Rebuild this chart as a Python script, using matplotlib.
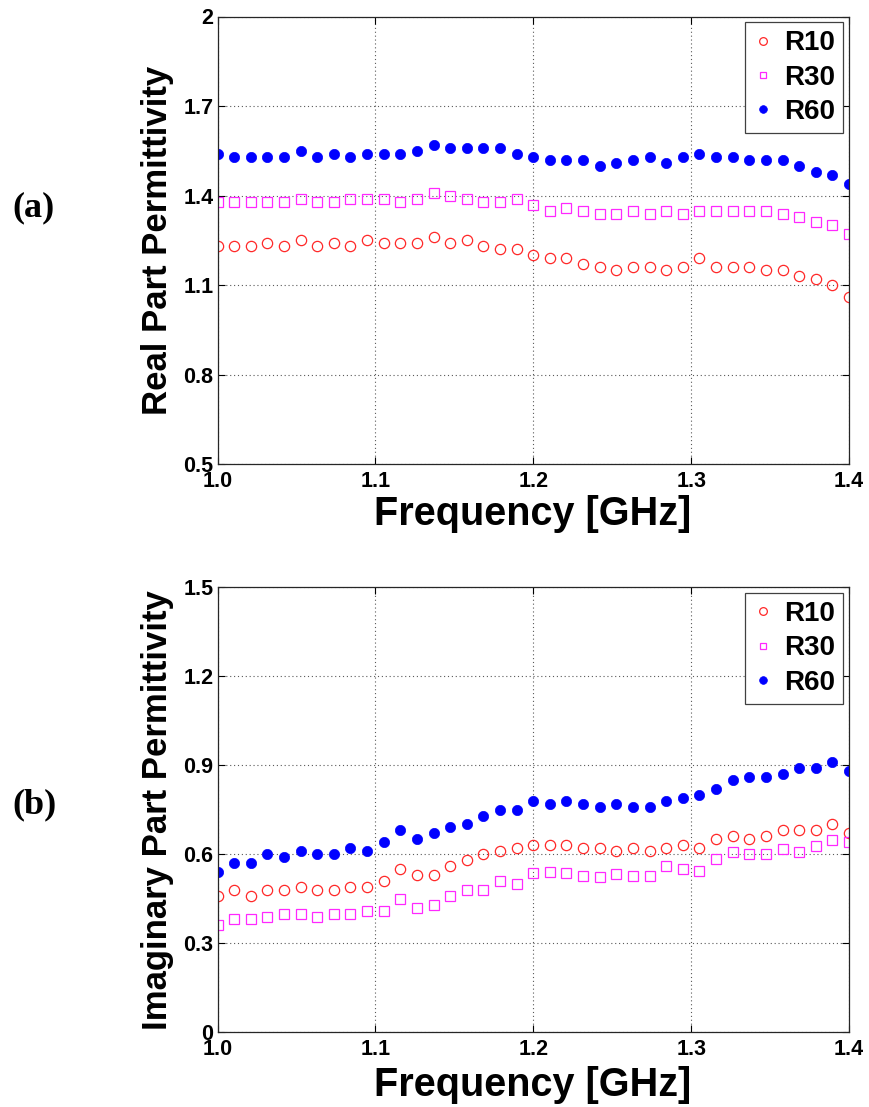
import numpy as np
import matplotlib
matplotlib.use("Agg")
import matplotlib.pyplot as plt
from matplotlib.lines import Line2D
from matplotlib.ticker import FixedLocator, FixedFormatter

# ---------------- data ----------------
freq = np.linspace(1.0, 1.4, 39)

real_r10 = [1.23, 1.23, 1.23, 1.24, 1.23, 1.25, 1.23, 1.24, 1.23, 1.25,
            1.24, 1.24, 1.24, 1.26, 1.24, 1.25, 1.23, 1.22, 1.22, 1.20,
            1.19, 1.19, 1.17, 1.16, 1.15, 1.16, 1.16, 1.15, 1.16, 1.19,
            1.16, 1.16, 1.16, 1.15, 1.15, 1.13, 1.12, 1.10, 1.06]
real_r30 = [1.38, 1.38, 1.38, 1.38, 1.38, 1.39, 1.38, 1.38, 1.39, 1.39,
            1.39, 1.38, 1.39, 1.41, 1.40, 1.39, 1.38, 1.38, 1.39, 1.37,
            1.35, 1.36, 1.35, 1.34, 1.34, 1.35, 1.34, 1.35, 1.34, 1.35,
            1.35, 1.35, 1.35, 1.35, 1.34, 1.33, 1.31, 1.30, 1.27]
real_r60 = [1.54, 1.53, 1.53, 1.53, 1.53, 1.55, 1.53, 1.54, 1.53, 1.54,
            1.54, 1.54, 1.55, 1.57, 1.56, 1.56, 1.56, 1.56, 1.54, 1.53,
            1.52, 1.52, 1.52, 1.50, 1.51, 1.52, 1.53, 1.51, 1.53, 1.54,
            1.53, 1.53, 1.52, 1.52, 1.52, 1.50, 1.48, 1.47, 1.44]

imag_r10 = [0.46, 0.48, 0.46, 0.48, 0.48, 0.49, 0.48, 0.48, 0.49, 0.49,
            0.51, 0.55, 0.53, 0.53, 0.56, 0.58, 0.60, 0.61, 0.62, 0.63,
            0.63, 0.63, 0.62, 0.62, 0.61, 0.62, 0.61, 0.62, 0.63, 0.62,
            0.65, 0.66, 0.65, 0.66, 0.68, 0.68, 0.68, 0.70, 0.67]
imag_r30 = [0.36, 0.38, 0.38, 0.39, 0.40, 0.40, 0.39, 0.40, 0.40, 0.41,
            0.41, 0.45, 0.42, 0.43, 0.46, 0.48, 0.48, 0.51, 0.50, 0.535,
            0.54, 0.535, 0.528, 0.524, 0.534, 0.528, 0.528, 0.56, 0.55, 0.543,
            0.584, 0.607, 0.601, 0.599, 0.618, 0.606, 0.628, 0.647, 0.641]
imag_r60 = [0.54, 0.57, 0.57, 0.60, 0.59, 0.61, 0.60, 0.60, 0.62, 0.61,
            0.64, 0.68, 0.65, 0.67, 0.69, 0.70, 0.73, 0.75, 0.75, 0.78,
            0.77, 0.78, 0.77, 0.76, 0.77, 0.76, 0.76, 0.78, 0.79, 0.80,
            0.82, 0.85, 0.86, 0.86, 0.87, 0.89, 0.89, 0.91, 0.88]

series_names = ["R10", "R30", "R60"]
x_ticks = [1.0, 1.1, 1.2, 1.3, 1.4]
x_ticklabels = ["1.0", "1.1", "1.2", "1.3", "1.4"]
real_yticks = [0.5, 0.8, 1.1, 1.4, 1.7, 2.0]
real_yticklabels = ["0.5", "0.8", "1.1", "1.4", "1.7", "2"]
imag_yticks = [0.0, 0.3, 0.6, 0.9, 1.2, 1.5]
imag_yticklabels = ["0", "0.3", "0.6", "0.9", "1.2", "1.5"]

# ---------------- style ----------------
plt.rcParams['font.family'] = ['Liberation Sans', 'DejaVu Sans']
W, H = 869, 1107
fig = plt.figure(figsize=(W / 100, H / 100), dpi=100)

def px_axes(left, top, right, bottom):
    return fig.add_axes([left / W, 1 - bottom / H, (right - left) / W, (bottom - top) / H])

ax1 = px_axes(217.5, 16.5, 849, 464.3)
ax2 = px_axes(217.5, 587, 849, 1032.3)

styles = [
    dict(marker='o', markerfacecolor='none', markeredgecolor='#ff2828', markersize=7.4, markeredgewidth=0.9),
    dict(marker='s', markerfacecolor='none', markeredgecolor='#ff28ff', markersize=6.6, markeredgewidth=0.9),
    dict(marker='o', markerfacecolor='#0000ff', markeredgecolor='#0000ff', markersize=7.4, markeredgewidth=0.5),
]

def setup(ax, ys, yticks, yticklabels, ylim):
    for y, st, name in zip(ys, styles, series_names):
        ax.plot(freq, y, linestyle='none', label=name, **st)
    ax.set_xlim(1.0, 1.4)
    ax.set_ylim(*ylim)
    ax.xaxis.set_major_locator(FixedLocator(x_ticks))
    ax.xaxis.set_major_formatter(FixedFormatter(x_ticklabels))
    ax.yaxis.set_major_locator(FixedLocator(yticks))
    ax.yaxis.set_major_formatter(FixedFormatter(yticklabels))
    ax.grid(True, linestyle=(0, (1, 2.5)), color='0.35', linewidth=0.8)
    ax.tick_params(direction='in', length=5, width=0.8, top=True, right=True,
                   labelsize=15.5, colors='black')
    ax.tick_params(axis='x', pad=5)
    ax.tick_params(axis='y', pad=3)
    for lab in ax.get_xticklabels() + ax.get_yticklabels():
        lab.set_fontweight('bold')
    for sp in ax.spines.values():
        sp.set_linewidth(0.9)
        sp.set_color('0.15')
    handles = [Line2D([], [], linestyle='none', marker=st['marker'],
                      markerfacecolor=st['markerfacecolor'],
                      markeredgecolor=st['markeredgecolor'],
                      markersize=st['markersize'] * 0.75,
                      markeredgewidth=st['markeredgewidth']) for st in styles]
    leg = ax.legend(handles, series_names, loc='upper right', fancybox=False,
                    framealpha=1, edgecolor='0.25', handlelength=0.7,
                    handletextpad=0.4, labelspacing=0.3, borderpad=0.3,
                    borderaxespad=0.2, prop=dict(weight='bold', size=20))
    leg.get_frame().set_linewidth(0.9)

setup(ax1, [real_r10, real_r30, real_r60], real_yticks, real_yticklabels, (0.5, 2.0))
setup(ax2, [imag_r10, imag_r30, imag_r60], imag_yticks, imag_yticklabels, (0.0, 1.5))

# axis labels
fig.text(533 / W, 1 - 525 / H, "Frequency [GHz]", ha='center', va='baseline',
         fontsize=28.5, fontweight='bold')
fig.text(533 / W, 1 - 1095.5 / H, "Frequency [GHz]", ha='center', va='baseline',
         fontsize=28.5, fontweight='bold')
fig.text(157 / W, 1 - 240.5 / H, "Real Part Permittivity", ha='center', va='center',
         rotation=90, fontsize=25, fontweight='bold')
fig.text(157 / W, 1 - 810 / H, "Imaginary Part Permittivity", ha='center', va='center',
         rotation=90, fontsize=25, fontweight='bold')

# panel labels
fig.text(34 / W, 1 - 208 / H, "(a)", ha='center', va='center', fontsize=26,
         fontweight='bold', family=['Liberation Serif', 'DejaVu Serif'])
fig.text(34 / W, 1 - 805 / H, "(b)", ha='center', va='center', fontsize=26,
         fontweight='bold', family=['Liberation Serif', 'DejaVu Serif'])

fig.savefig("out.png", dpi=100)
